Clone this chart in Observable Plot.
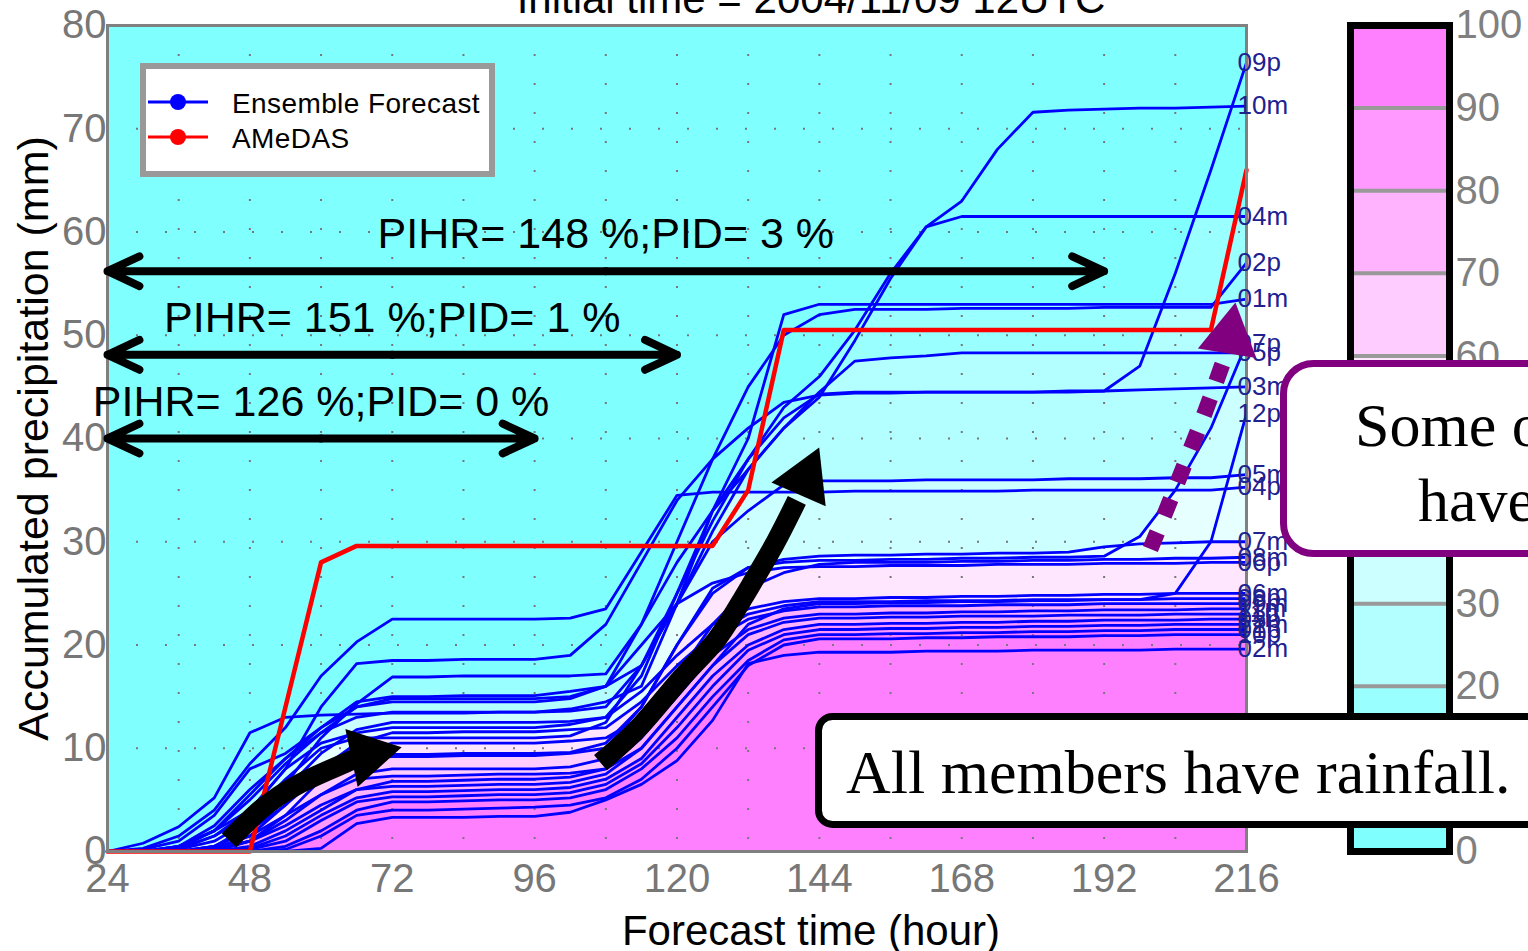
<!DOCTYPE html>
<html><head><meta charset="utf-8">
<script src="https://cdn.jsdelivr.net/npm/d3@7"></script>
<script src="https://cdn.jsdelivr.net/npm/@observablehq/plot@0.6"></script>
<style>
html,body{margin:0;padding:0;background:#fff;overflow:hidden;}
#wrap{position:relative;width:1528px;height:951px;overflow:hidden;font-family:"Liberation Sans",Arial,sans-serif;}
#wrap > svg{position:absolute;left:0;top:0;}
</style></head><body><div id="wrap"></div>
<script>
// ---------- data ----------
const hours = [24,30,36,42,48,54,60,66,72,78,84,90,96,102,108,114,120,126,132,138,144,150,156,162,168,174,180,186,192,198,204,210,216];
const memberNames = ["09p","10m","04m","02p","01m","05p","07p","03m","12p","05m","04p","07m","08m","06p","06m","08p","09m","11m","11p","03p","12m","01p","10p","02m"];
const memberValues = [
 [0,0,0.5,2,4,8,10.5,11.5,12, 12,12,12,12, 12.3,13,17,25,33,38,42,44.3, 44.5,44.5,44.5,44.5,44.5,44.5,44.5, 44.6,47,56,66,76.4],
 [0,0.8,2.4,5.2,11.5,13,13.2,13.3,13.4, 13.4,13.4,13.5,13.5, 13.6,14,18,24,31,37,41,44, 49.5,55.5,60.5,63,68,71.6,71.8, 71.9,72,72,72.1,72.2],
 [0,0,0.3,1.5,3.5,7,10,11,11, 11,11,11,11, 11.2,12.5,18,25,32,38,43,46, 50.5,56,60.5,61.5,61.5,61.5,61.5, 61.5,61.5,61.5,61.5,61.5],
 [0,0,0.5,2.5,6,9,12,14,14.5, 14.5,14.5,14.5,14.5, 14.8,16,22,30,38,45,50,52, 52.5,52.5,52.5,52.6,52.6,52.6,52.6, 52.7,52.7,52.7,52.7,57],
 [0,0.2,1,3.5,8,9.5,12,14.5,15, 15,15.1,15.1,15.1, 15.5,16,18,24,33,40,52,53, 53,53,53,53,53,53,53, 53,53,53,53,53.5],
 [0,0,0.2,1,3,6.5,11,14.3,16.9, 16.9,17,17,17, 17,17.2,22,28,33,37,41,44.5, 47.5,47.8,48,48.3,48.3,48.3,48.3, 48.3,48.3,48.3,48.3,48.3],
 [0,0,0,0.5,2,5,8,9,9.2, 9.2,9.3,9.3,9.3, 9.5,10,14,20,25,27.5,28,28.2, 28.2,28.3,28.3,28.4,28.4,28.5,28.5, 28.6,30.5,35,41,49.2],
 [0,0,0.2,1.5,4,8,14,18.2,18.5, 18.5,18.6,18.6,18.6, 19,22,28,34,38,41,43.5,44.2, 44.4,44.4,44.5,44.5,44.5,44.5,44.6, 44.6,44.7,44.8,44.9,45],
 [0,0,0,0.3,1.5,3.5,5.5,7,7.3, 7.3,7.4,7.5,7.5, 7.6,8,10,14,18,22,23.5,24, 24,24.1,24.1,24.2,24.2,24.3,24.3, 24.4,24.4,25,30,42.4],
 [0,0,0.5,2,5.5,9,11.5,13,13.5, 13.5,13.5,13.5,13.5, 13.8,14.5,16,24,30,33,35.5,35.9, 35.9,35.9,36,36,36,36,36.1, 36.1,36.1,36.2,36.2,36.5],
 [0,0.3,1.5,4,8.5,12,17,20.3,22.5, 22.5,22.5,22.5,22.5, 22.6,23.5,29,34.5,34.8,34.8,34.8,34.8, 34.9,34.9,34.9,34.9,34.9,35,35, 35,35,35,35,35.3],
 [0,0,0,0.5,2,4.5,7.5,9,9.4, 9.4,9.5,9.5,9.5, 9.6,10.5,14,20,25.5,27.5,28.3,28.6, 28.7,28.7,28.8,28.8,28.9,28.9,29, 29.5,29.8,29.9,30,30],
 [0,0,0,0.2,1,3,5.5,7.5,8, 8,8,8,8, 8.2,9,12,17,22,25.5,27,27.8, 28,28,28,28.1,28.1,28.2,28.2, 28.3,28.3,28.4,28.4,28.5],
 [0,0,0.3,2,5,8.5,11.5,14,14.8, 14.8,14.8,14.8,14.8, 15,16,20,24,26,27,27.5,27.6, 27.6,27.7,27.7,27.7,27.8,27.8,27.8, 27.9,27.9,27.9,28,28],
 [0,0,0,0.5,2.5,6,9.5,11.8,12.5, 12.5,12.5,12.5,12.5, 12.6,13,15.5,19,22,23.5,24.2,24.5, 24.5,24.6,24.6,24.7,24.7,24.8,24.8, 24.9,24.9,25,25,25],
 [0,0,0,0.3,1.5,4.5,8,10.5,11.5, 11.5,11.6,11.6,11.6, 11.8,12,14.5,18,21,23,23.8,24.2, 24.2,24.2,24.3,24.3,24.3,24.4,24.4, 24.4,24.4,24.5,24.5,24.5],
 [0,0,0,0,1,3.5,7,9.5,10.5, 10.5,10.5,10.5,10.5, 10.7,11,13,17,20.5,22.5,23.3,23.7, 23.7,23.8,23.8,23.8,23.9,23.9,23.9, 24,24,24,24,24],
 [0,0,0,0,0.5,2,4,6,6.8, 6.8,6.9,7,7, 7.2,8,11,15,19,21.5,22.6,23, 23,23.1,23.1,23.2,23.2,23.3,23.3, 23.4,23.4,23.4,23.5,23.5],
 [0,0,0,0.2,1,2.5,4.5,6,6.3, 6.3,6.4,6.5,6.5, 6.7,7.5,10,14,18,21,22.2,22.6, 22.6,22.7,22.7,22.8,22.8,22.8,22.9, 22.9,22.9,23,23,23],
 [0,0,0,0,0.3,1.5,3.5,5.2,5.8, 5.8,5.9,6,6, 6.2,7,9,13,17,20,21.5,22, 22,22.1,22.1,22.2,22.2,22.3,22.3, 22.4,22.4,22.4,22.5,22.5],
 [0,0,0,0,0.2,1,3,4.8,5.3, 5.3,5.4,5.5,5.5, 5.7,6.5,8.5,12,16,19.5,21,21.5, 21.5,21.6,21.6,21.7,21.7,21.8,21.8, 21.9,21.9,22,22,22],
 [0,0,0,0,0,0.5,2,4,4.8, 4.8,4.9,5,5, 5.2,6,8,11,15,18.5,20.5,21, 21,21.1,21.1,21.2,21.2,21.3,21.3, 21.4,21.4,21.5,21.5,21.5],
 [0,0,0,0,0,0.2,1.5,3.5,4, 4,4.1,4.2,4.3, 4.5,5.2,7,10,14,18,20,20.6, 20.6,20.6,20.7,20.7,20.8,20.8,20.8, 20.9,20.9,21,21,21],
 [0,0,0,0,0,0,0.3,2.7,3.3, 3.3,3.3,3.4,3.4, 3.8,5,6.5,8.8,12.7,18.2,19,19.3, 19.3,19.3,19.4,19.4,19.4,19.5,19.5, 19.5,19.5,19.6,19.6,19.6]
];
const amedasValues = [0,0,0,0,0,14,28,29.6,29.6,29.6,29.6,29.6,29.6,29.6,29.6,29.6,29.6,29.6,35,50.5,50.5,50.5,50.5,50.5,50.5,50.5,50.5,50.5,50.5,50.5,50.5,50.5,66];

const xTicks = [24,48,72,96,120,144,168,192,216];
const yTicks = [0,10,20,30,40,50,60,70,80];
const gridHours = [36,48,60,72,84,96,108,120,132,144,156,168,180,192,204];
const gridLevels = [10,20,30,40,50,60,70];
const probTicks = [0,10,20,30,40,50,60,70,80,90,100];
const probBandStarts = [0,10,20,30,40,50,60,70,80,90];
const probThresholds = [10,20,30,40,50,60,70,80,90];
const probColors = ["#80ffff","#99ffff","#b3ffff","#ccffff","#e6ffff","#ffe6ff","#ffccff","#ffb3ff","#ff99ff","#ff80ff"];

const pihrLabels = ["PIHR= 148 %;PID= 3 %","PIHR= 151 %;PID= 1 %","PIHR= 126 %;PID= 0 %"];
const pihrLeads = [192,120,96];
const pihrLevels = [56.2,48.1,40];

const titleText = "Initial time = 2004/11/09 12UTC";
const xLabel = "Forecast time (hour)";
const yLabel = "Accumulated precipitation (mm)";
const legendLabels = ["Ensemble Forecast","AMeDAS"];

// annotation paths (hour, mm)
const curveArrow1 = [[44.5,1.07],[49.9,4.1],[56.5,6.6],[63.8,8.5],[66,9.1]];
const curveArrow1Head = [67.95,9.4,78];
const curveArrow2 = [[107.1,8.6],[113.9,12.2],[120.9,16.9],[126.5,20.4],[131.2,24.6],[136.1,29.4],[140.2,34]];
const curveArrow2Head = [141.65,36.1,23.7];
const purpleArrow = [[199.8,29.3],[203,33.8],[206.2,38.4],[209.3,43],[212,47.3]];
const purpleArrowHead = [213.2,49.9,9.3];

// ---------- checks ----------
memberValues.forEach((s,k)=>{ if (s.length!==hours.length) throw new Error("member "+memberNames[k]+" has "+s.length); });
if (amedasValues.length!==hours.length) throw new Error("amedas "+amedasValues.length);

// ---------- derived ----------
const rows = memberNames.flatMap((name,k)=>hours.map((h,i)=>({member:name,hour:h,value:memberValues[k][i]})));
const amedasRows = hours.map((h,i)=>({hour:h,value:amedasValues[i]}));
const last = hours.length-1;
const endRows = memberNames.map((name,k)=>({name,hour:hours[last],value:memberValues[k][last]}));
const pihr = pihrLabels.map((label,i)=>({label,lead:pihrLeads[i],level:pihrLevels[i],start:hours[0],mid:(hours[0]+pihrLeads[i])/2}));

const cache = new Map();
function valuesAt(x){
  let v = cache.get(x);
  if (v) return v;
  let i = d3.bisectRight(hours, x) - 1;
  i = Math.max(0, Math.min(hours.length-2, i));
  const t = (x - hours[i])/(hours[i+1]-hours[i]);
  v = memberValues.map(s => s[i] + (s[i+1]-s[i])*t);
  cache.set(x, v);
  return v;
}
function prob(x,y){
  const v = valuesAt(x);
  let c = 0;
  for (let k=0;k<v.length;k++) if (v[k] > y) c++;
  return 100*c/v.length;
}

const toPts = a => a.map(([x,y])=>({x,y}));
const colorScale = {type:"threshold", domain:probThresholds, range:probColors};

const main = Plot.plot({
  width:1528, height:951, marginLeft:107, marginRight:282, marginTop:25, marginBottom:100,
  style:{background:"transparent", fontFamily:"'Liberation Sans', Arial, sans-serif"},
  x:{domain:[hours[0],hours[last]]},
  y:{domain:[yTicks[0],yTicks[yTicks.length-1]]},
  color:colorScale,
  marks:[
    Plot.raster({x1:hours[0], x2:hours[last], y1:yTicks[0], y2:yTicks[yTicks.length-1], fill:(x,y)=>prob(x,y), pixelSize:1, imageRendering:"pixelated"}),
    Plot.gridX(gridHours, {stroke:"#777", strokeOpacity:1, strokeWidth:2, strokeDasharray:"2,27"}),
    Plot.gridY(gridLevels, {stroke:"#777", strokeOpacity:1, strokeWidth:2, strokeDasharray:"2,27"}),
    Plot.line(rows, {x:"hour", y:"value", z:"member", stroke:"#0000ff", strokeWidth:2.8}),
    Plot.line(amedasRows, {x:"hour", y:"value", stroke:"#ff0000", strokeWidth:4.5}),
    Plot.frame({stroke:"#808080", strokeWidth:3}),
    Plot.axisX(xTicks, {tickSize:0, tickPadding:12, fontSize:40, color:"#777", label:null}),
    Plot.axisY(yTicks, {tickSize:0, tickPadding:1, fontSize:40, color:"#777", label:null}),
    Plot.text([xLabel], {text:d=>d, frameAnchor:"bottom", textAnchor:"middle", lineAnchor:"bottom", dx:134, dy:93, fontSize:42, fill:"black"}),
    Plot.text([yLabel], {text:d=>d, frameAnchor:"left", textAnchor:"middle", rotate:-90, lineAnchor:"bottom", dx:-60, fontSize:43, fill:"black"}),
    Plot.text(endRows, {x:"hour", y:"value", text:"name", textAnchor:"start", dx:-9, fontSize:26, fill:"#20208f"}),
    Plot.arrow(pihr, {x1:"mid", x2:"start", y1:"level", y2:"level", stroke:"black", strokeWidth:8, headLength:6.6, headAngle:50}),
    Plot.arrow(pihr, {x1:"mid", x2:"lead", y1:"level", y2:"level", stroke:"black", strokeWidth:8, headLength:6.6, headAngle:50}),
    Plot.text(pihr, {x:"mid", y:"level", text:"label", lineAnchor:"bottom", dy:-23, fontSize:43, fill:"black"}),
    Plot.line(toPts(curveArrow1), {x:"x", y:"y", curve:"natural", stroke:"black", strokeWidth:20, strokeLinecap:"butt"}),
    Plot.dot([curveArrow1Head], {x:d=>d[0], y:d=>d[1], rotate:curveArrow1Head[2], symbol:"triangle", r:22, fill:"black", stroke:"none"}),
    Plot.line(toPts(curveArrow2), {x:"x", y:"y", curve:"natural", stroke:"black", strokeWidth:20, strokeLinecap:"butt"}),
    Plot.dot([curveArrow2Head], {x:d=>d[0], y:d=>d[1], rotate:curveArrow2Head[2], symbol:"triangle", r:22, fill:"black", stroke:"none"}),
    Plot.line(toPts(purpleArrow), {x:"x", y:"y", curve:"natural", stroke:"#800080", strokeWidth:16, strokeLinecap:"butt", strokeDasharray:"18,18"}),
    Plot.dot([purpleArrowHead], {x:d=>d[0], y:d=>d[1], rotate:purpleArrowHead[2], symbol:"triangle", r:22, fill:"#800080", stroke:"none"})
  ]
});

const bar = Plot.plot({
  width:1528, height:951, marginLeft:1350, marginRight:79, marginTop:25, marginBottom:100,
  style:{background:"transparent", fontFamily:"'Liberation Sans', Arial, sans-serif"},
  x:{domain:[0,1], axis:null},
  y:{domain:[probTicks[0], probTicks[probTicks.length-1]]},
  color:colorScale,
  marks:[
    Plot.rect(probBandStarts, {x1:0, x2:1, y1:d=>d, y2:(d,i)=>probTicks[i+1], fill:d=>d+1}),
    Plot.ruleY(probThresholds, {stroke:"#999", strokeWidth:4}),
    Plot.frame({stroke:"black", strokeWidth:7}),
    Plot.axisY(probTicks, {anchor:"right", tickSize:0, tickPadding:6, fontSize:40, color:"#808080", label:null})
  ]
});

const wrap = document.getElementById("wrap");
wrap.appendChild(main);
wrap.appendChild(bar);

// overlay: title, legend, callouts
const ov = d3.select(wrap).append("svg").attr("width",1528).attr("height",951);
ov.append("text").attr("x",811).attr("y",13).attr("text-anchor","middle")
  .attr("font-family","'Liberation Sans', Arial, sans-serif").attr("font-size",42).text(titleText);
const lg = ov.append("g");
lg.append("rect").attr("x",143).attr("y",66).attr("width",349).attr("height",108).attr("fill","white").attr("stroke","#999").attr("stroke-width",6);
[["#0000ff",102],["#ff0000",137]].forEach(([c,y],i)=>{
  lg.append("line").attr("x1",148).attr("x2",208).attr("y1",y).attr("y2",y).attr("stroke",c).attr("stroke-width",3);
  lg.append("circle").attr("cx",178).attr("cy",y).attr("r",8).attr("fill",c);
  lg.append("text").attr("x",232).attr("y",y+11).attr("font-size",28).attr("letter-spacing",0.4)
    .attr("font-family","'Liberation Sans', Arial, sans-serif").text(legendLabels[i]);
});
ov.append("rect").attr("x",818.5).attr("y",716.5).attr("width",800).attr("height",108).attr("rx",14)
  .attr("fill","white").attr("stroke","black").attr("stroke-width",7);
ov.append("text").attr("x",846).attr("y",793).attr("font-family","'Liberation Serif', 'Times New Roman', serif").attr("font-size",62).text("All members have rainfall.");
ov.append("rect").attr("x",1283.5).attr("y",363.5).attr("width",400).attr("height",190).attr("rx",30)
  .attr("fill","white").attr("stroke","#800080").attr("stroke-width",7);
ov.append("text").attr("x",1355).attr("y",446).attr("font-family","'Liberation Serif', 'Times New Roman', serif").attr("font-size",62).text("Some of the members");
ov.append("text").attr("x",1418).attr("y",521).attr("font-family","'Liberation Serif', 'Times New Roman', serif").attr("font-size",62).text("have heavy rainfall.");
</script></body></html>
